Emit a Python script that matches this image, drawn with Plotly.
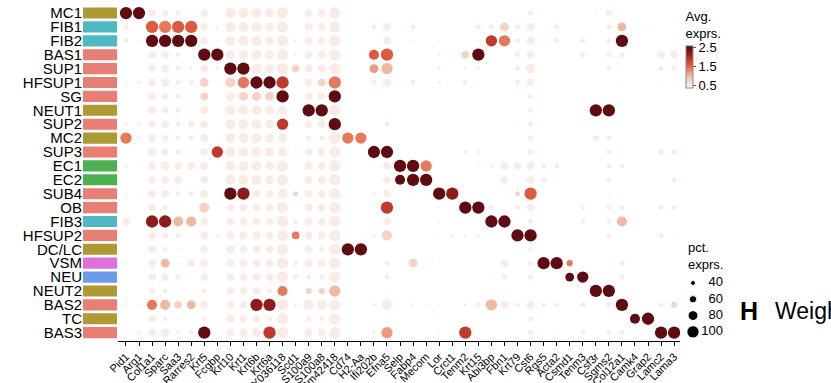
import plotly.graph_objects as go

clusters = ["MC1", "FIB1", "FIB2", "BAS1", "SUP1", "HFSUP1", "SG", "NEUT1", "SUP2", "MC2",
            "SUP3", "EC1", "EC2", "SUB4", "OB", "FIB3", "HFSUP2", "DC/LC", "VSM", "NEU",
            "NEUT2", "BAS2", "TC", "BAS3"]
cluster_colors = ["#ae9a35", "#4fb8c2", "#4fb8c2", "#e87f74", "#e87f74", "#e87f74", "#e87f74", "#ae9a35",
                  "#e87f74", "#ae9a35", "#e87f74", "#4cb050", "#4cb050", "#e87f74", "#e87f74", "#4fb8c2",
                  "#e87f74", "#ae9a35", "#df6fdc", "#6c9bec", "#ae9a35", "#e87f74", "#ae9a35", "#e87f74"]

genes = ["Pid1", "Arg1", "Col1a1", "Sparc", "Saa3", "Rarres2", "Krt5", "Fcgbp", "Krt10", "Krt1",
         "Krt6b", "Krt6a", "AY036118", "Scd1", "S100a9", "S100a8", "Gm42418", "Cd74", "H2-Aa", "Ifi202b",
         "Efna5", "Selp", "Fabp4", "Mecom", "Lor", "Crct1", "Tenm2", "Krt15", "Abi3bp", "Fbn1",
         "Krt79", "Cst6", "Rgs5", "Acta2", "Csmd1", "Tenm3", "Csf3r", "Sgms2", "Col12a1", "Camk4",
         "Grap2", "Lamc2", "Lama3"]

# per-row percent-expressing codes (one char per gene, grouped by 5 genes)
pct_codes = [
    "99543 05077 76805 58000 00000 00000 03000 02400 000",  # MC1
    "31999 95277 76805 58103 50300 00336 35030 00360 100",  # FIB1
    "31999 95177 76825 58000 50101 00188 35030 30390 000",  # FIB2
    "00553 09966 76825 58007 90002 05900 35000 30330 055",  # BAS1
    "00553 25299 76855 58006 80002 02200 37000 00300 033",  # SUP1
    "12553 36178 99905 59003 50302 03100 35000 00010 011",  # HFSUP1
    "00543 05066 66905 59000 00000 00000 03000 00000 000",  # SG
    "00543 05077 76609 98000 00000 00000 03000 09900 000",  # NEUT1
    "22553 45077 76805 59000 30000 00000 13000 00000 000",  # SUP2
    "82543 35077 76603 38880 00000 00000 03000 04300 000",  # MC2
    "00543 05877 76625 58009 90000 02200 03000 00310 033",  # SUP3
    "21565 55077 76805 58101 59980 00125 55330 00330 000",  # EC1
    "00555 05077 76805 58100 57990 00005 05300 00300 003",  # EC2
    "11553 35099 55735 58102 50109 90011 39000 00110 000",  # SUB4
    "00531 07155 55815 58001 90001 09930 35000 30330 033",  # OB
    "50997 75055 55835 58000 50001 00099 03000 30370 000",  # FIB3
    "00543 05255 55855 58002 70001 22210 99000 00300 031",  # HFSUP2
    "10531 05055 55805 38990 00000 00000 03000 00000 000",  # DC/LC
    "10561 55055 55835 58000 30601 00005 03994 00130 000",  # VSM
    "00553 05055 55833 38000 30000 00013 03006 80030 000",  # NEU
    "00331 03055 53704 48000 00000 00000 00000 09900 000",  # NEUT2
    "11775 65055 99827 78002 70211 02385 35330 30390 034",  # BAS2
    "00531 03055 53803 38000 00001 00000 03000 00007 900",  # TC
    "12562 39155 69805 58002 80001 09000 03010 30330 099",  # BAS3
]

# per-row average-expression codes (one char per gene)
expr_codes = [
    "99111 11111 11111 11111 11111 11111 11111 11111 111",  # MC1
    "11656 61111 11111 11111 11111 11112 11111 11131 111",  # FIB1
    "11999 91111 11111 11111 11111 11175 11111 11191 111",  # FIB2
    "11111 19911 11111 11116 61111 12911 11111 11111 111",  # BAS1
    "11111 11199 11121 11114 31111 11111 11111 11111 111",  # SUP1
    "11111 12125 99711 25111 11111 11111 11111 11111 111",  # HFSUP1
    "11111 12112 22911 19111 11111 11111 11111 11111 111",  # SG
    "11111 11111 11119 91111 11111 11111 11111 19911 111",  # NEUT1
    "11111 11111 11711 19111 11111 11111 11111 11111 111",  # SUP2
    "51111 11111 11111 11551 11111 11111 11111 11111 111",  # MC2
    "11111 11711 11111 11119 91111 11111 11111 11111 111",  # SUP3
    "11111 11111 11111 11111 19951 11111 11111 11111 111",  # EC1
    "11111 11111 11111 11111 19991 11111 11111 11111 111",  # EC2
    "11111 11198 11121 11111 11119 81111 26111 11111 111",  # SUB4
    "11111 12111 11111 11111 71111 19911 11111 11111 111",  # OB
    "11883 31111 11111 11111 11111 11199 11111 11131 111",  # FIB3
    "11111 11111 11151 11111 21111 11111 99111 11111 111",  # HFSUP2
    "11111 11111 11111 11991 11111 11111 11111 11111 111",  # DC/LC
    "11131 11111 11111 11111 11211 11111 11995 11111 111",  # VSM
    "11111 11111 11111 11111 11111 11111 11119 91111 111",  # NEU
    "11111 11111 11512 23111 11111 11111 11111 19911 111",  # NEUT2
    "11532 31111 88111 11111 11111 11131 11111 11191 112",  # BAS2
    "11111 11111 11111 11111 11111 11111 11111 11119 911",  # TC
    "11111 19111 17111 11111 41111 17111 11111 11111 199",  # BAS3
]

pct_levels = {"1": 15, "2": 25, "3": 40, "4": 50, "5": 62, "6": 72, "7": 82, "8": 92, "9": 100}
expr_levels = {"1": 0.45, "2": 0.8, "3": 1.0, "4": 1.2, "5": 1.4, "6": 1.6, "7": 1.9, "8": 2.2, "9": 2.5}

legend_pcts = [40, 60, 80, 100]
colorbar_ticks = [0.5, 1.5, 2.5]

xs, ys, pcts, exprs = [], [], [], []
for r, cl in enumerate(clusters):
    p = pct_codes[r].replace(" ", "")
    e = expr_codes[r].replace(" ", "")
    for c, g in enumerate(genes):
        if p[c] != "0":
            xs.append(g)
            ys.append(cl)
            pcts.append(pct_levels[p[c]])
            exprs.append(expr_levels[e[c]])

colorscale = [[0, "#fdf5f2"], [0.044, "#f9ebe6"], [0.2, "#f5d2c3"], [0.289, "#f0b8a0"],
              [0.378, "#eb9a7c"], [0.467, "#e5795a"], [0.556, "#dd5a3f"], [0.689, "#c03a2b"],
              [0.822, "#8e1b1c"], [0.956, "#5e0b12"], [1, "#580a10"]]

SIZEREF = 100 / 12.3
W, H = 831, 383
FONT = "Liberation Sans, Arial, sans-serif"

fig = go.Figure()

fig.add_trace(go.Scatter(
    x=xs, y=ys, mode="markers", xaxis="x", yaxis="y", showlegend=False,
    marker=dict(size=pcts, sizeref=SIZEREF, sizemode="diameter", color=exprs, opacity=1,
                colorscale=colorscale, cmin=0.35, cmax=2.6, line=dict(width=0),
                colorbar=dict(x=686 / W, xanchor="left", y=1 - 9 / H, yanchor="top",
                              len=79, lenmode="pixels", thickness=7, thicknessmode="pixels",
                              xpad=0, ypad=0, outlinewidth=1, outlinecolor="#888",
                              title=dict(text="Avg.<br>exprs.", side="top",
                                         font=dict(size=13, color="black", family=FONT)),
                              tickvals=colorbar_ticks, ticks="outside", ticklen=3,
                              tickcolor="#555",
                              tickfont=dict(size=13, color="black", family=FONT))),
))

fig.add_trace(go.Bar(
    x=[1] * len(clusters), y=clusters, orientation="h", xaxis="x2", yaxis="y",
    marker=dict(color=cluster_colors, line=dict(width=0)), width=0.8, showlegend=False,
    hoverinfo="skip",
))

fig.add_trace(go.Scatter(
    x=[13] * len(legend_pcts), y=legend_pcts, mode="markers", xaxis="x3", yaxis="y3",
    marker=dict(size=legend_pcts, sizeref=SIZEREF, sizemode="diameter", color="black",
                opacity=1),
    showlegend=False, hoverinfo="skip",
))
fig.add_trace(go.Scatter(
    x=[43] * len(legend_pcts), y=legend_pcts, mode="text", xaxis="x3", yaxis="y3",
    text=[str(v) for v in legend_pcts], textposition="middle left",
    textfont=dict(size=13, color="black", family=FONT), showlegend=False, hoverinfo="skip",
))

fig.update_layout(
    width=W, height=H, margin=dict(l=0, r=0, t=0, b=0, autoexpand=False),
    paper_bgcolor="white", plot_bgcolor="white",
    font=dict(family=FONT, color="black"),
    xaxis=dict(domain=[118 / W, 683 / W], anchor="y", type="category",
               categoryorder="array", categoryarray=genes, range=[-0.61, 42.68],
               tickmode="array", tickvals=genes, ticktext=genes,
               showline=True, linecolor="black", linewidth=1, ticks="outside", ticklen=4,
               tickcolor="black", tickangle=-45, tickfont=dict(size=11, color="black"),
               showgrid=False, zeroline=False, automargin=False),
    yaxis=dict(domain=[1 - 341 / H, 1 - 4 / H], anchor="x2", type="category",
               categoryorder="array", categoryarray=clusters, range=[23.6, -0.65],
               tickmode="array", tickvals=clusters, ticktext=clusters,
               showline=False, ticks="", showgrid=False, zeroline=False, automargin=False,
               tickfont=dict(size=15, color="black")),
    xaxis2=dict(domain=[83 / W, 117 / W], anchor="y", range=[0, 1], visible=False),
    xaxis3=dict(domain=[680 / W, 730 / W], anchor="y3", range=[0, 50], visible=False),
    yaxis3=dict(domain=[1 - 345 / H, 1 - 270 / H], anchor="x3", range=[116.1, 24.05],
                visible=False),
    annotations=[
        dict(text="pct.<br>exprs.", x=686 / W, y=1 - 238 / H, xref="paper", yref="paper",
             xanchor="left", yanchor="top", align="left", showarrow=False,
             font=dict(size=13, color="black")),
        dict(text="<b>H</b>", x=738 / W, y=1 - 311 / H, xref="paper", yref="paper",
             xanchor="left", yanchor="middle", showarrow=False,
             font=dict(size=25, color="black")),
        dict(text="Weight", x=773 / W, y=1 - 311 / H, xref="paper", yref="paper",
             xanchor="left", yanchor="middle", showarrow=False,
             font=dict(size=23, color="black")),
    ],
)

fig.write_html("out.html", post_script="document.body.style.margin='0';",
               config={"displayModeBar": False})
